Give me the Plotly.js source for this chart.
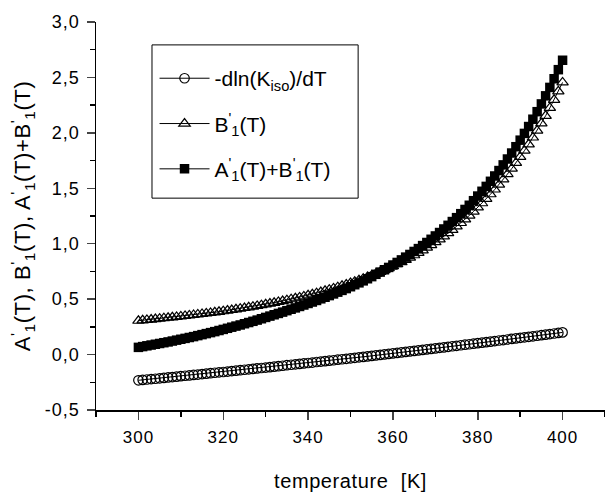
<!DOCTYPE html>
<html>
<head>
<meta charset="utf-8">
<script src="https://cdn.plot.ly/plotly-3.0.1.min.js"></script>
<style>
html,body{margin:0;padding:0;background:#fff;}
#chart{width:605px;height:493px;}
#chart .ytitle{letter-spacing:0.6px;}
#chart .xtitle{letter-spacing:0.6px;}
#chart .xtick text, #chart .ytick text{letter-spacing:1px;}
</style>
</head>
<body>
<div id="chart"></div>
<script>
// temperature [K]
var temperature = [300,301,302,303,304,305,306,307,308,309,310,311,312,313,314,315,316,317,318,319,
320,321,322,323,324,325,326,327,328,329,330,331,332,333,334,335,336,337,338,339,
340,341,342,343,344,345,346,347,348,349,350,351,352,353,354,355,356,357,358,359,
360,361,362,363,364,365,366,367,368,369,370,371,372,373,374,375,376,377,378,379,
380,381,382,383,384,385,386,387,388,389,390,391,392,393,394,395,396,397,398,399,400];

// -dln(K_iso)/dT
var dlnK = [-0.232,-0.228,-0.225,-0.221,-0.218,-0.214,-0.210,-0.206,-0.203,-0.199,
-0.195,-0.191,-0.188,-0.184,-0.180,-0.176,-0.172,-0.168,-0.164,-0.160,
-0.157,-0.153,-0.149,-0.145,-0.141,-0.137,-0.133,-0.129,-0.125,-0.121,
-0.117,-0.113,-0.109,-0.105,-0.101,-0.096,-0.092,-0.088,-0.084,-0.080,
-0.076,-0.072,-0.067,-0.063,-0.059,-0.055,-0.051,-0.046,-0.042,-0.038,
-0.034,-0.029,-0.025,-0.021,-0.016,-0.012,-0.007,-0.003,0.002,0.006,
0.011,0.015,0.020,0.024,0.029,0.033,0.038,0.042,0.047,0.051,
0.056,0.061,0.065,0.070,0.075,0.079,0.084,0.089,0.093,0.098,
0.103,0.108,0.112,0.117,0.122,0.127,0.131,0.136,0.141,0.146,
0.151,0.156,0.160,0.165,0.170,0.175,0.180,0.185,0.190,0.195,0.200];

// B'1(T)
var B1 = [0.305,0.309,0.312,0.316,0.320,0.324,0.328,0.332,0.336,0.340,
0.344,0.348,0.353,0.357,0.362,0.366,0.371,0.376,0.381,0.386,
0.391,0.397,0.402,0.408,0.414,0.420,0.426,0.432,0.439,0.446,
0.453,0.460,0.467,0.475,0.483,0.491,0.499,0.508,0.516,0.525,
0.535,0.544,0.554,0.564,0.575,0.586,0.597,0.608,0.620,0.632,
0.645,0.658,0.671,0.685,0.699,0.714,0.730,0.746,0.762,0.779,
0.797,0.815,0.834,0.854,0.874,0.896,0.918,0.940,0.964,0.988,
1.014,1.040,1.067,1.096,1.125,1.156,1.187,1.220,1.254,1.290,
1.327,1.365,1.405,1.446,1.489,1.533,1.580,1.628,1.677,1.729,
1.783,1.839,1.897,1.958,2.021,2.086,2.154,2.225,2.298,2.375,2.455];

// A'1(T)+B'1(T)
var AB1 = [0.065,0.072,0.079,0.086,0.093,0.100,0.107,0.114,0.122,0.130,
0.138,0.146,0.154,0.162,0.171,0.180,0.189,0.198,0.207,0.217,
0.227,0.237,0.247,0.257,0.267,0.278,0.289,0.300,0.311,0.323,
0.335,0.347,0.359,0.371,0.383,0.396,0.409,0.421,0.434,0.447,
0.461,0.474,0.488,0.503,0.517,0.532,0.547,0.563,0.579,0.595,
0.612,0.630,0.647,0.665,0.684,0.703,0.724,0.744,0.765,0.786,
0.808,0.831,0.854,0.879,0.903,0.930,0.956,0.983,1.011,1.040,
1.070,1.101,1.133,1.166,1.200,1.235,1.271,1.309,1.347,1.388,
1.430,1.473,1.517,1.563,1.611,1.660,1.711,1.764,1.818,1.875,
1.934,1.995,2.057,2.123,2.191,2.261,2.334,2.410,2.488,2.570,2.655];

var names = ["-dln(K<sub>iso</sub>)/dT", "B<sup>'</sup><sub>1</sub>(T)", "A<sup>'</sup><sub>1</sub>(T)+B<sup>'</sup><sub>1</sub>(T)"];
var yTickVals = [-0.5,0,0.5,1,1.5,2,2.5,3];
var yTickText = ["-0,5","0,0","0,5","1,0","1,5","2,0","2,5","3,0"];
var xTickVals = [300,320,340,360,380,400];
var xTickText = ["300","320","340","360","380","400"];

var font = "Arial, 'Liberation Sans', sans-serif";

var traces = [
  {x: temperature, y: dlnK, name: names[0], legendgroup: "g1", mode: "lines+markers",
   line: {color: "#000", width: 1},
   marker: {symbol: "circle-open", size: 9.5, color: "#000", line: {width: 1.2, color: "#000"}}},
  {x: temperature, y: B1, name: names[1], legendgroup: "g2", mode: "lines+markers",
   line: {color: "#000", width: 1},
   marker: {symbol: "triangle-up-open", size: 10, color: "#000", line: {width: 1.2, color: "#000"}}},
  {x: temperature, y: AB1, name: names[2], legendgroup: "g3", mode: "lines+markers",
   line: {color: "#000", width: 1},
   marker: {symbol: "square", size: 9.5, color: "#000", line: {width: 0}}}
];

var layout = {
  width: 605, height: 493,
  margin: {l: 96, r: 0, t: 22, b: 83, pad: 0},
  paper_bgcolor: "#fff", plot_bgcolor: "#fff",
  separators: ", ",
  font: {family: font, size: 17, color: "#000"},
  showlegend: true,
  legend: {x: 0.115, y: 0.907, xanchor: "left", yanchor: "top",
    bgcolor: "rgba(0,0,0,0)", borderwidth: 0, tracegroupgap: 15,
    font: {family: font, size: 21, color: "#000"}, itemwidth: 50},
  xaxis: {range: [290, 410], tickvals: xTickVals, ticktext: xTickText, ticks: "outside", ticklen: 8, tickwidth: 1.5,
    showline: true, linecolor: "#000", linewidth: 1.5, showgrid: false, zeroline: false,
    minor: {dtick: 10, ticks: "outside", ticklen: 5, tickwidth: 1.5, tickcolor: "#000", showgrid: false},
    tickfont: {family: font, size: 17}, ticklabelstandoff: 3,
    title: {text: "temperature  [K]", font: {family: font, size: 20}, standoff: 28}},
  yaxis: {range: [-0.5, 3.0], tickvals: yTickVals, ticktext: yTickText, ticks: "outside", ticklen: 8, tickwidth: 1.5,
    showline: true, linecolor: "#000", linewidth: 1.5, showgrid: false, zeroline: false,
    minor: {dtick: 0.25, ticks: "outside", ticklen: 5, tickwidth: 1.5, tickcolor: "#000", showgrid: false},
    tickfont: {family: font, size: 18}, ticklabelstandoff: 3,
    title: {text: "A<sup>'</sup><sub>1</sub>(T), B<sup>'</sup><sub>1</sub>(T), A<sup>'</sup><sub>1</sub>(T)+B<sup>'</sup><sub>1</sub>(T)", font: {family: font, size: 22}, standoff: 12}},
  shapes: [{type: "rect", xref: "paper", yref: "paper", x0: 0.110, x1: 0.515, y0: 0.546, y1: 0.941,
    line: {color: "#000", width: 1}, fillcolor: "rgba(0,0,0,0)", layer: "above"}]
};

Plotly.newPlot("chart", traces, layout, {displayModeBar: false, staticPlot: true});
</script>
</body>
</html>
